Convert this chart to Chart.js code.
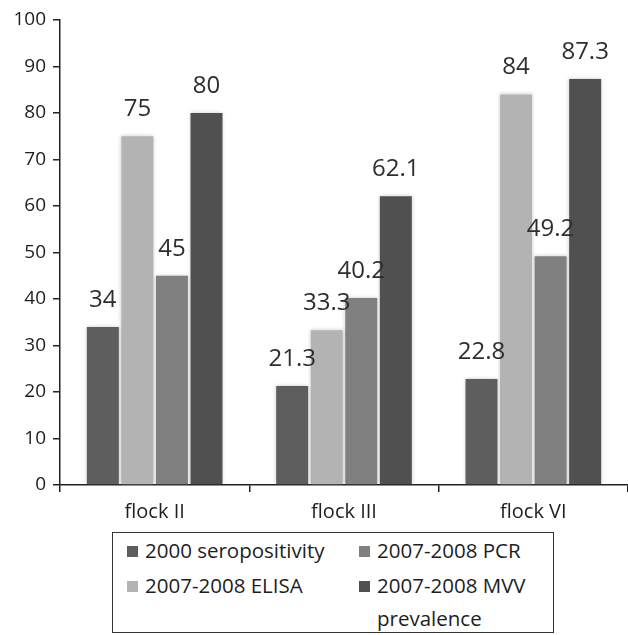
<!DOCTYPE html>
<html>
<head>
<meta charset="utf-8">
<script src="https://cdn.jsdelivr.net/npm/chart.js@4"></script>
<style>
  html, body { margin: 0; padding: 0; background: #fff; }
  #wrap { position: relative; width: 628px; height: 635px; overflow: hidden; font-family: "Open Sans", Lato, sans-serif; }
  #chartBox { position: absolute; left: 0; top: 0; width: 628px; height: 530px; }
  #legend { position: absolute; left: 112px; top: 532px; width: 442px; height: 101px; border: 1px solid #333; box-sizing: border-box; }
  .item { position: absolute; font-size: 20.5px; color: #1e1e1e; line-height: 33px; white-space: nowrap; }
  .sw { display: inline-block; width: 11px; height: 11px; margin-right: 7px; vertical-align: 1px; }
</style>
</head>
<body>
<div id="wrap">
  <div id="chartBox"><canvas id="c"></canvas></div>
  <div id="legend"></div>
</div>
<script>
// Flock categories and survey results (%)
const categories = ['flock II', 'flock III', 'flock VI'];
const seropositivity2000 = [34, 21.3, 22.8];
const elisa2007 = [75, 33.3, 84];
const pcr2007 = [45, 40.2, 49.2];
const mvvPrevalence2007 = [80, 62.1, 87.3];
const yTicks = [0, 10, 20, 30, 40, 50, 60, 70, 80, 90, 100];

const seriesNames = ['2000 seropositivity', '2007-2008 ELISA', '2007-2008 PCR', '2007-2008 MVV prevalence'];
const seriesColors = ['#5e5e5e', '#b3b3b3', '#808080', '#505050'];
const seriesValues = [seropositivity2000, elisa2007, pcr2007, mvvPrevalence2007];

const FONT = '"Open Sans", Lato, sans-serif';

// soft halo around the bars
const barShadow = {
  id: 'barShadow',
  beforeDatasetDraw(chart) {
    const ctx = chart.ctx;
    ctx.save();
    ctx.shadowColor = 'rgba(0,0,0,0.22)';
    ctx.shadowBlur = 4;
  },
  afterDatasetDraw(chart) { chart.ctx.restore(); }
};

// value labels above each bar
const valueLabels = {
  id: 'valueLabels',
  afterDatasetsDraw(chart) {
    const ctx = chart.ctx;
    ctx.save();
    ctx.font = '24px ' + FONT;
    ctx.fillStyle = '#2e2e2e';
    ctx.textAlign = 'center';
    ctx.textBaseline = 'alphabetic';
    chart.data.datasets.forEach((ds, i) => {
      chart.getDatasetMeta(i).data.forEach((bar, j) => {
        ctx.fillText(String(ds.data[j]), bar.x, bar.y - 20);
      });
    });
    ctx.restore();
  }
};

new Chart(document.getElementById('c'), {
  type: 'bar',
  data: {
    labels: categories,
    datasets: seriesNames.map((name, i) => ({
      label: name,
      data: seriesValues[i],
      backgroundColor: seriesColors[i],
      borderWidth: 0,
      categoryPercentage: 0.73,
      barPercentage: 0.925
    }))
  },
  options: {
    responsive: true,
    maintainAspectRatio: false,
    animation: false,
    events: [],
    layout: { padding: { top: 20, right: 0, left: 0, bottom: 0 } },
    plugins: { legend: { display: false }, tooltip: { enabled: false } },
    scales: {
      x: {
        grid: { display: true, drawOnChartArea: false, offset: true, tickLength: 7, color: '#222', lineWidth: 1.5 },
        border: { display: true, color: '#222', width: 1.5 },
        ticks: { font: { family: FONT, size: 20 }, color: '#1e1e1e', padding: 8 },
        afterFit(s) { s.height = 45; }
      },
      y: {
        min: 0, max: 100,
        afterBuildTicks(s) { s.ticks = yTicks.map(v => ({ value: v })); },
        grid: { display: true, drawOnChartArea: false, tickLength: 7, color: '#222', lineWidth: 1.5 },
        border: { display: true, color: '#222', width: 1.5 },
        ticks: { font: { family: FONT, size: 19 }, color: '#1e1e1e', padding: 7 },
        afterFit(s) { s.width = 60; }
      }
    }
  },
  plugins: [barShadow, valueLabels]
});

// two-column legend box beneath the chart
const legendPos = [
  { left: 14, top: 1 },   // 2000 seropositivity
  { left: 14, top: 36 },  // ELISA
  { left: 246, top: 1 },  // PCR
  { left: 246, top: 36 }  // MVV prevalence
];
const legend = document.getElementById('legend');
seriesNames.forEach((name, i) => {
  const el = document.createElement('div');
  el.className = 'item';
  el.style.left = legendPos[i].left + 'px';
  el.style.top = legendPos[i].top + 'px';
  const sw = document.createElement('span');
  sw.className = 'sw';
  sw.style.background = seriesColors[i];
  el.appendChild(sw);
  if (i === 3) {
    el.appendChild(document.createTextNode('2007-2008 MVV'));
    el.appendChild(document.createElement('br'));
    const indent = document.createElement('span');
    indent.style.paddingLeft = '18px';
    indent.textContent = 'prevalence';
    el.appendChild(indent);
  } else {
    el.appendChild(document.createTextNode(name));
  }
  legend.appendChild(el);
});
</script>
</body>
</html>
